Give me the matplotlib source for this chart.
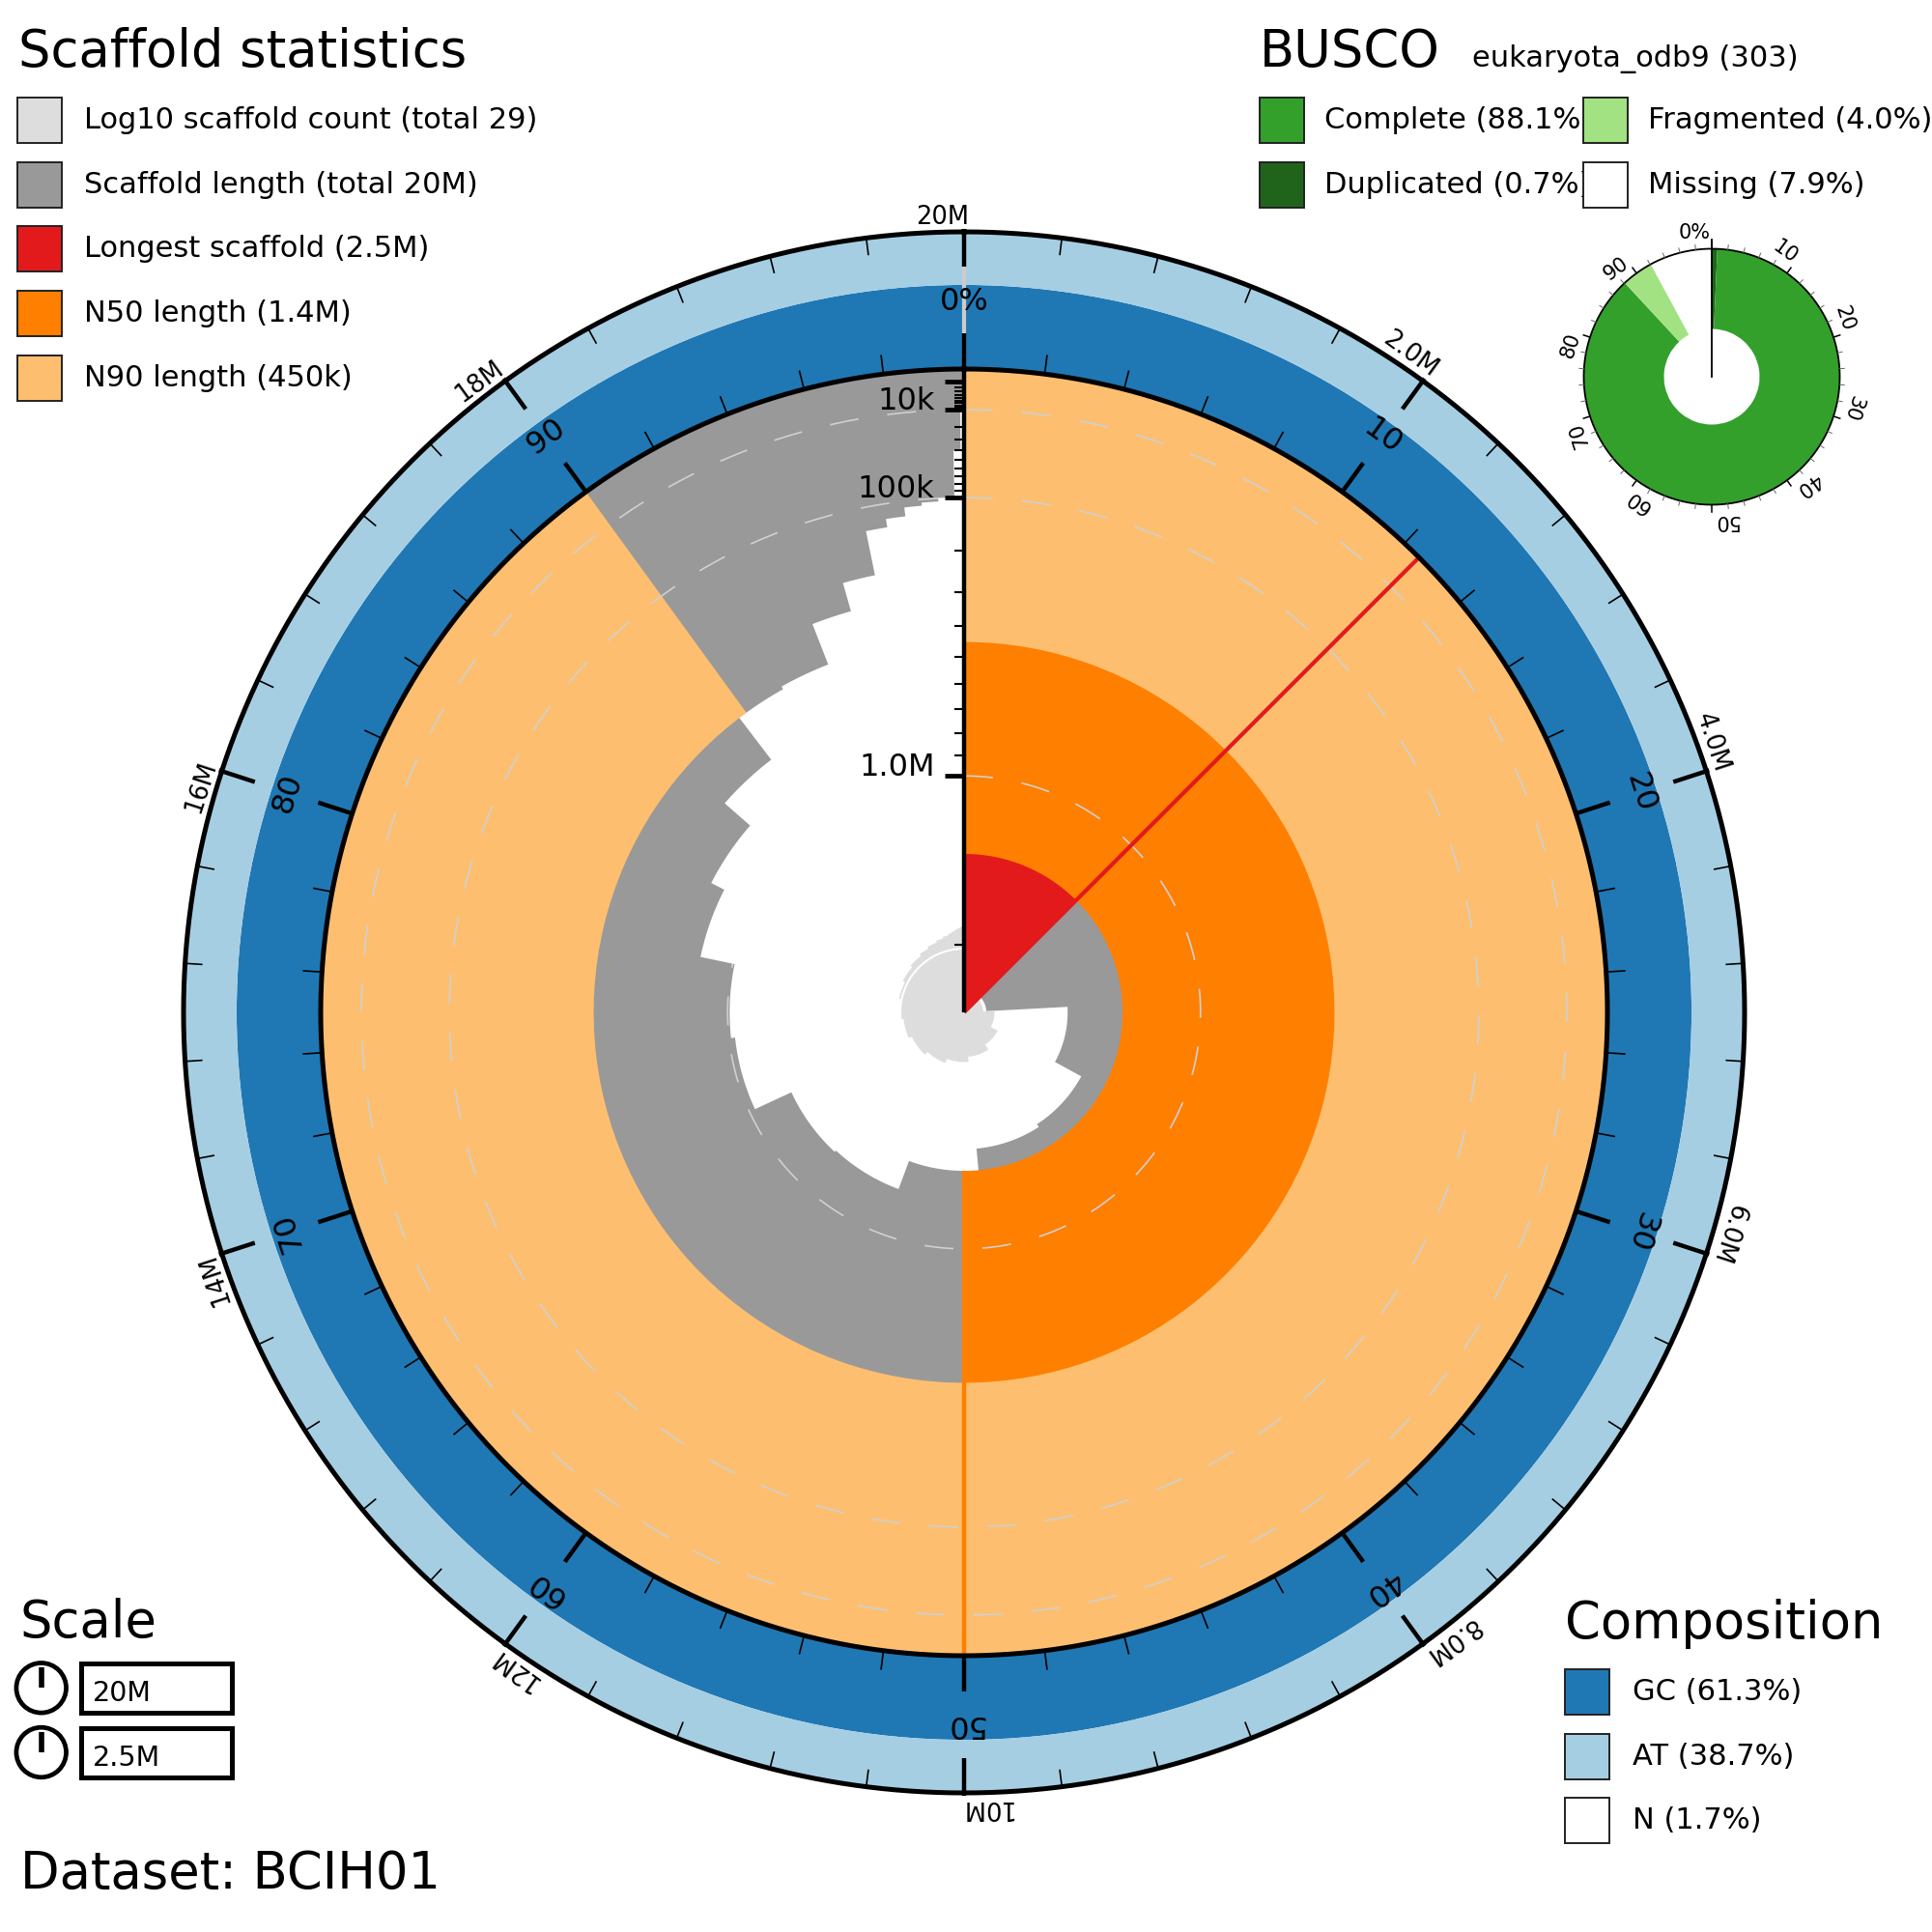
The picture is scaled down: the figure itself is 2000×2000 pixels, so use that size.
import numpy as np
import matplotlib
matplotlib.use("Agg")
import matplotlib.pyplot as plt
from matplotlib.patches import Rectangle, Circle

# ---------------- data ----------------
scaffold_lengths_M = [2.50, 2.33, 1.76, 1.57, 1.55, 1.42, 1.25, 1.24, 1.03, 1.01,
                      0.845, 0.78, 0.64, 0.45, 0.44, 0.31, 0.235, 0.14, 0.125, 0.11,
                      0.105, 0.10, 0.04, 0.009, 0.003, 0.003, 0.002, 0.002, 0.001]
composition_labels = ["GC", "AT", "N"]
composition_pct = [61.3, 38.7, 1.7]
busco_labels = ["Complete", "Duplicated", "Fragmented", "Missing"]
busco_pct = [88.1, 0.7, 4.0, 7.9]
busco_lineage = "eukaryota_odb9"
busco_total = 303
dataset_name = "BCIH01"
pct_tick_labels = ["0%", "10", "20", "30", "40", "50", "60", "70", "80", "90"]
span_tick_labels = ["2.0M", "4.0M", "6.0M", "8.0M", "10M", "12M", "14M", "16M", "18M", "20M"]
length_axis_ticks = [1e4, 1e5, 1e6]
length_axis_labels = ["10k", "100k", "1.0M"]
busco_tick_labels = ["0%", "10", "20", "30", "40", "50", "60", "70", "80", "90"]

# colours
C_GREY, C_COUNT, C_RED = "#999999", "#dddddd", "#e31a1c"
C_N50, C_N90 = "#ff7f00", "#fdbf6f"
C_GC, C_AT = "#1f78b4", "#a6cee3"
C_BUSCO = ["#33a02c", "#20641c", "#a3e283", "#ffffff"]


def fmt(v):
    for div, suf in [(1e9, "G"), (1e6, "M"), (1e3, "k")]:
        if v >= div * 0.9999:
            x = v / div
            if x >= 9.95:
                return f"{x:.0f}{suf}"
            return f"{x:.1f}{suf}"
    return f"{v:.0f}"


L = np.array(scaffold_lengths_M) * 1e6
n = len(L)
total = L.sum()
Lmax = L.max()
cum_end = np.cumsum(L)
cum_start = cum_end - L


def n_stat(p):
    return L[np.searchsorted(cum_end, total * p - 1e-6)]


N50, N90 = n_stat(0.5), n_stat(0.9)

W = 2000
fig = plt.figure(figsize=(20, 20), dpi=100)

# ---------------- main snail axes ----------------
CX, CY, H = 998, 1048, 850
ax = fig.add_axes([(CX - H) / W, (W - CY - H) / W, 2 * H / W, 2 * H / W], projection="polar")
ax.set_theta_zero_location("N")
ax.set_theta_direction(-1)
ax.set_ylim(0, H)
ax.set_axis_off()

R_IN, R_OUT = 666.0, 808.0
TWO_PI = 2 * np.pi


def rL(x):
    return R_IN * (1 - np.sqrt(np.asarray(x, dtype=float) / Lmax))


def th(pos):
    return TWO_PI * np.asarray(pos, dtype=float) / total


def step_outline(starts, widths, radii):
    """Outline (theta, r) of a polar step function starting from the centre."""
    ts, rs = [0.0], [0.0]
    for a, w, r in zip(starts, widths, radii):
        m = max(2, int(np.ceil(w / 0.002)) + 1)
        t = np.linspace(a, a + w, m)
        ts.extend(t)
        rs.extend([r] * m)
    ts.append(0.0)
    rs.append(0.0)
    return np.array(ts), np.array(rs)


tt = np.linspace(0, TWO_PI, 2881)

# scaffold length area (grey) + longest / N50 / N90
ax.bar(0, R_IN, width=TWO_PI, bottom=0, color=C_GREY, linewidth=0, zorder=1)
ax.bar(0, R_IN, width=th(Lmax), bottom=0, align="edge", color=C_RED, linewidth=0, zorder=2)
ax.bar(0, R_IN - rL(N50), width=np.pi, bottom=rL(N50), align="edge", color=C_N50, linewidth=0, zorder=3)
ax.bar(0, R_IN - rL(N90), width=0.9 * TWO_PI, bottom=rL(N90), align="edge", color=C_N90, linewidth=0, zorder=4)

# gridlines
for v in length_axis_ticks:
    ax.plot(tt, np.full_like(tt, rL(v)), color="#d0d0d0", lw=1.2, ls=(0, (18, 18)), zorder=5)

# inner empty part of the length distribution (one polygon, no seams)
ht, hr = step_outline(th(cum_start), th(L), rL(L))
ax.fill(ht, hr, color="white", linewidth=0, zorder=6)

# log10 scaffold count spiral
RC = 66.0
counts = np.arange(1, n + 1)
ct, cr = step_outline(th(cum_start), th(L), RC * np.log10(counts))
ax.fill(ct, cr, color=C_COUNT, linewidth=0, zorder=7)
i10 = np.searchsorted(counts, 10)
t2 = np.linspace(th(cum_start[i10]), TWO_PI, 400)
ax.plot(t2, np.full_like(t2, RC), color="white", lw=1.5, zorder=8)

# edges of longest / N50
ax.plot([th(Lmax)] * 2, [0, R_IN], color=C_RED, lw=3, zorder=9, solid_capstyle="butt")
ax.plot([np.pi] * 2, [rL(N50), R_IN], color=C_N50, lw=3.2, zorder=9, solid_capstyle="butt")

# composition ring
gc_frac = composition_pct[0] / (composition_pct[0] + composition_pct[1])
R_GC = R_IN + (R_OUT - R_IN) * gc_frac
ax.bar(0, R_GC - R_IN, width=TWO_PI, bottom=R_IN, color=C_GC, linewidth=0, zorder=2)
ax.bar(0, R_OUT - R_GC, width=TWO_PI, bottom=R_GC, color=C_AT, linewidth=0, zorder=2)
ax.plot([0, 0], [R_IN, R_OUT], color="#cccccc", lw=3, zorder=10, solid_capstyle="butt")

# circles
ax.plot(tt, np.full_like(tt, R_IN), color="black", lw=3.6, zorder=12)
ax.plot(tt, np.full_like(tt, R_OUT), color="black", lw=3.6, zorder=12)

# inner percentage ticks + labels
for k in range(50):
    t = TWO_PI * k / 50
    major = k % 5 == 0
    ax.plot([t, t], [R_IN, R_IN + (37 if major else 20)], color="black",
            lw=3.2 if major else 1.2, zorder=12, solid_capstyle="butt")
for k, lab in enumerate(pct_tick_labels):
    t = TWO_PI * k / len(pct_tick_labels)
    ax.text(t, 736, lab, rotation=-np.degrees(t), rotation_mode="anchor",
            ha="center", va="center", fontsize=23, zorder=14)

# outer span ticks + labels
minor_step, major_step = 0.4e6, 2e6
for k in range(int(round(total / minor_step))):
    pos = k * minor_step
    t = th(pos)
    major = abs(pos / major_step - round(pos / major_step)) < 1e-6
    if major:
        ax.plot([t, t], [R_OUT - 36, R_OUT + 3], color="black", lw=3.2, zorder=12, solid_capstyle="butt")
    else:
        ax.plot([t, t], [R_OUT - 18, R_OUT], color="black", lw=1.2, zorder=12, solid_capstyle="butt")
for k, lab in enumerate(span_tick_labels):
    t = th((k + 1) * major_step)
    ax.text(t + 5 / 816, 816, lab, rotation=-np.degrees(t), rotation_mode="anchor",
            ha="right", va="baseline", fontsize=18.5, zorder=14)

# radial length axis
ax.plot([0, 0], [0, R_IN], color="black", lw=3.2, zorder=13, solid_capstyle="butt")


def hseg(r, length):
    return [0, np.arctan2(-length, r)], [r, np.hypot(length, r)]


for dec in [1e3, 1e4, 1e5, 1e6]:
    for m in range(1, 10):
        v = m * dec
        if v > Lmax:
            continue
        if m == 1:
            xs, ys = hseg(rL(v), 20)
            ax.plot(xs, ys, color="black", lw=3.4, zorder=13, solid_capstyle="butt")
        else:
            xs, ys = hseg(rL(v), 10)
            ax.plot(xs, ys, color="black", lw=1.5, zorder=13, solid_capstyle="butt")
for v, lab in zip(length_axis_ticks, length_axis_labels):
    ax.annotate(lab, xy=(0, rL(v)), xytext=(-22, 0), textcoords="offset points",
                ha="right", va="baseline", fontsize=23, zorder=14)

# ---------------- BUSCO donut ----------------
BX, BY, H2 = 1772, 390, 175
ax2 = fig.add_axes([(BX - H2) / W, (W - BY - H2) / W, 2 * H2 / W, 2 * H2 / W], projection="polar")
ax2.set_theta_zero_location("N")
ax2.set_theta_direction(-1)
ax2.set_ylim(0, H2)
ax2.set_axis_off()
RB_IN, RB_OUT = 49.5, 132.5
comp, dup, frag, miss = busco_pct
b_starts = np.array([0, dup, comp, comp + frag])
b_widths = np.array([dup, comp - dup, frag, miss])
b_cols = [C_BUSCO[1], C_BUSCO[0], C_BUSCO[2], C_BUSCO[3]]
ax2.bar(TWO_PI * b_starts / 100, RB_OUT - RB_IN, width=TWO_PI * b_widths / 100, bottom=RB_IN,
        align="edge", color=b_cols, linewidth=0, zorder=2)
tb = np.linspace(0, TWO_PI, 720)
ax2.plot(tb, np.full_like(tb, RB_OUT), color="black", lw=1.3, zorder=4)
ax2.plot([0, 0], [0, RB_OUT + 9], color="black", lw=1.3, zorder=4)
for k in range(50):
    t = TWO_PI * k / 50
    if k % 5 == 0:
        ax2.plot([t, t], [RB_OUT, RB_OUT + 7], color="black", lw=1.1, zorder=4)
    else:
        ax2.plot([t, t], [RB_OUT, RB_OUT + 5], color="#666666", lw=0.7, zorder=4)
for k, lab in enumerate(busco_tick_labels):
    t = TWO_PI * k / 10
    ax2.text(t - 1.5 / 143, 143, lab, rotation=-np.degrees(t), rotation_mode="anchor",
             ha="right", va="baseline", fontsize=15, zorder=5)

# ---------------- legends (overlay, pixel layout) ----------------
axL = fig.add_axes([0, 0, 1, 1])
axL.set_xlim(0, W)
axL.set_ylim(W, 0)
axL.set_axis_off()
axL.patch.set_alpha(0)

TITLE_FS, TEXT_FS = 38, 22
SQ_W, SQ_H, ROW = 46, 47, 66.7


def square(x, y, color, z=3):
    axL.add_patch(Rectangle((x, y), SQ_W, SQ_H, facecolor=color, edgecolor="#222222", lw=1.4, zorder=z))


# Scaffold statistics
axL.text(19, 69, "Scaffold statistics", fontsize=TITLE_FS, va="baseline", ha="left")
stat_items = [(C_COUNT, f"Log10 scaffold count (total {n})"),
              (C_GREY, f"Scaffold length (total {fmt(total)})"),
              (C_RED, f"Longest scaffold ({fmt(Lmax)})"),
              (C_N50, f"N50 length ({fmt(N50)})"),
              (C_N90, f"N90 length ({fmt(N90)})")]
for i, (col, lab) in enumerate(stat_items):
    y = 101 + i * ROW
    square(18, y, col)
    axL.text(87, y + SQ_H / 2, lab, fontsize=TEXT_FS, va="center", ha="left")

# BUSCO legend
axL.text(1304, 69, "BUSCO", fontsize=TITLE_FS, va="baseline", ha="left")
axL.text(1524, 69, f"{busco_lineage} ({busco_total})", fontsize=TEXT_FS, va="baseline", ha="left")
busco_items = [(C_BUSCO[0], f"{busco_labels[0]} ({busco_pct[0]:.1f}%)", 0, 0),
               (C_BUSCO[1], f"{busco_labels[1]} ({busco_pct[1]:.1f}%)", 0, 1),
               (C_BUSCO[2], f"{busco_labels[2]} ({busco_pct[2]:.1f}%)", 1, 0),
               (C_BUSCO[3], f"{busco_labels[3]} ({busco_pct[3]:.1f}%)", 1, 1)]
col_x = [1304, 1639]
for col, lab, c, r in busco_items:
    y = 101 + r * ROW
    square(col_x[c], y, col, z=3 + c * 2)
    axL.text(col_x[c] + 67, y + SQ_H / 2, lab, fontsize=TEXT_FS, va="center", ha="left", zorder=4)

# Scale legend
axL.text(20, 1695, "Scale", fontsize=TITLE_FS, va="baseline", ha="left")
for i, lab in enumerate([fmt(total), fmt(Lmax)]):
    cy = 1747.3 + i * ROW
    axL.add_patch(Circle((42.7, cy), 25.8, fill=False, edgecolor="black", lw=3.4))
    axL.plot([42.7, 42.7], [cy, cy - 21], color="black", lw=4, solid_capstyle="butt")
    axL.add_patch(Rectangle((84, cy - 25.5), 156, 51, fill=False, edgecolor="black", lw=3.6))
    axL.text(96, cy + 14, lab, fontsize=20.5, va="baseline", ha="left")

axL.text(21, 1955, f"Dataset: {dataset_name}", fontsize=TITLE_FS, va="baseline", ha="left")

# Composition legend
axL.text(1620, 1696, "Composition", fontsize=TITLE_FS, va="baseline", ha="left")
comp_cols = [C_GC, C_AT, "#ffffff"]
for i, (lab, pct) in enumerate(zip(composition_labels, composition_pct)):
    y = 1728 + i * ROW
    square(1620, y, comp_cols[i])
    axL.text(1690, y + SQ_H / 2, f"{lab} ({pct:.1f}%)", fontsize=TEXT_FS, va="center", ha="left")

fig.savefig("out.png", dpi=100, facecolor="white")
